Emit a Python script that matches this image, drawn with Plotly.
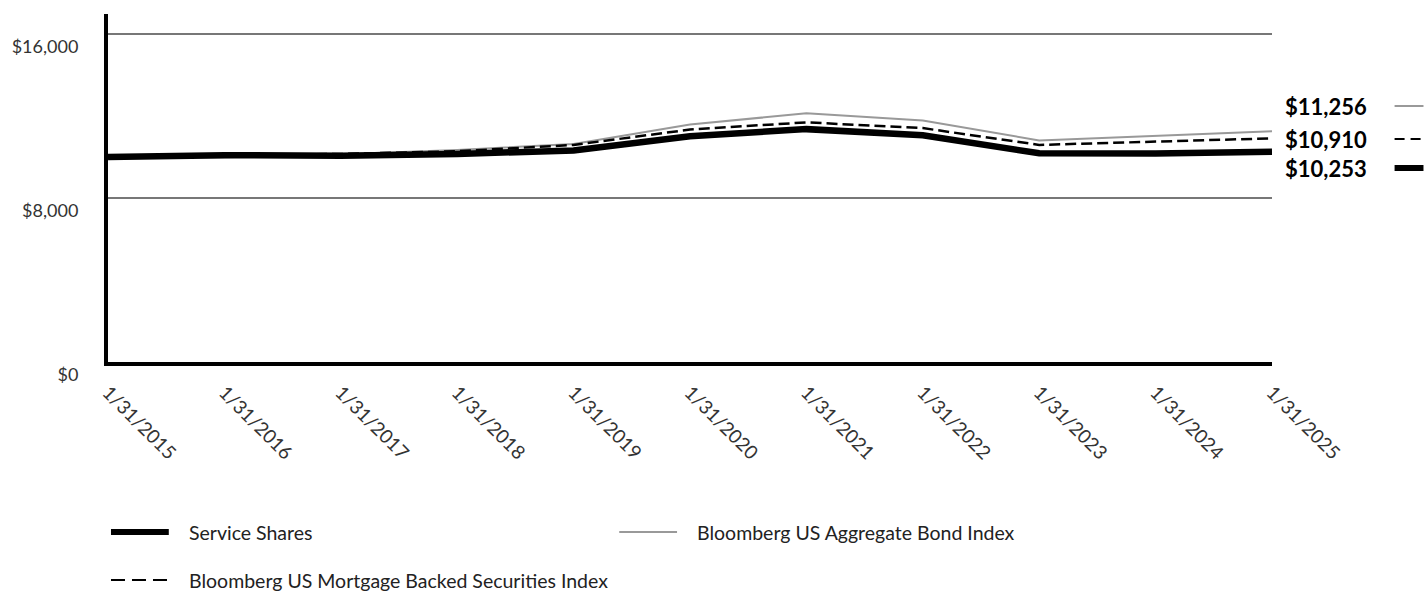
import plotly.graph_objects as go

# ---- data ----
dates = ["1/31/2015", "1/31/2016", "1/31/2017", "1/31/2018", "1/31/2019", "1/31/2020",
         "1/31/2021", "1/31/2022", "1/31/2023", "1/31/2024", "1/31/2025"]
service_shares = [10000, 10090, 10060, 10150, 10320, 11010, 11360, 11060, 10180, 10170, 10253]
agg_index = [10000, 9990, 10130, 10340, 10640, 11590, 12130, 11780, 10810, 11020, 11256]
mbs_index = [10000, 10100, 10150, 10280, 10590, 11340, 11690, 11410, 10590, 10750, 10910]
y_ticks = [0, 8000, 16000]
y_tick_text = ["$0", "$8,000", "$16,000"]
end_labels = ["$11,256", "$10,910", "$10,253"]
legend_names = ["Service Shares", "Bloomberg US Aggregate Bond Index",
                "Bloomberg US Mortgage Backed Securities Index"]

W, H = 1424, 592
L, R, T, B = 104, 1272, 14, 362
FONT = "Lato"

def px(x):
    return (x - L) / (R - L)

def py(y):
    return (B - y) / (B - T)

fig = go.Figure()
fig.add_trace(go.Scatter(x=dates, y=agg_index, mode="lines", name=legend_names[1],
                         line=dict(color="#999999", width=2), showlegend=False))
fig.add_trace(go.Scatter(x=dates, y=mbs_index, mode="lines", name=legend_names[2],
                         line=dict(color="#000000", width=2.5, dash="11px,5px"), showlegend=False))
fig.add_trace(go.Scatter(x=dates, y=service_shares, mode="lines", name=legend_names[0],
                         line=dict(color="#000000", width=6.5), showlegend=False))

shapes = []
annotations = []

# right-side end labels with line samples
end_y = [106, 139, 168]
end_styles = [dict(color="#999999", width=2), dict(color="#000000", width=2, dash="10px,6px"),
              dict(color="#000000", width=6)]
for lab, yy, st in zip(end_labels, end_y, end_styles):
    annotations.append(dict(text="<b>" + lab + "</b>", x=px(1283), y=py(yy), xref="paper", yref="paper",
                            xanchor="left", yanchor="middle", showarrow=False,
                            font=dict(family=FONT, size=22, color="#000000")))
    shapes.append(dict(type="line", xref="paper", yref="paper", x0=px(1395), x1=px(1424),
                       y0=py(yy), y1=py(yy), line=st))

# manual legend at the bottom
leg = [(legend_names[0], 107, 532, dict(color="#000000", width=6)),
       (legend_names[1], 617, 532, dict(color="#999999", width=2)),
       (legend_names[2], 107, 580, dict(color="#000000", width=2, dash="14px,7px"))]
for name, x0, yy, st in leg:
    shapes.append(dict(type="line", xref="paper", yref="paper", x0=px(x0), x1=px(x0 + 58),
                       y0=py(yy), y1=py(yy), line=st))
    annotations.append(dict(text=name, x=px(x0 + 76), y=py(yy), xref="paper", yref="paper",
                            xanchor="left", yanchor="middle", showarrow=False,
                            font=dict(family=FONT, size=19.5, color="#222222")))

fig.update_layout(
    width=W, height=H,
    margin=dict(l=L, r=W - R, t=T, b=H - B),
    paper_bgcolor="white", plot_bgcolor="white",
    font=dict(family=FONT, size=18, color="#333333"),
    shapes=shapes, annotations=annotations,
    showlegend=False,
    xaxis=dict(type="category", range=[0, len(dates) - 1], showgrid=False, zeroline=False,
               showline=True, linecolor="#000000", linewidth=4, ticks="",
               tickangle=45, tickfont=dict(family=FONT, size=19, color="#333333"),
               ticklabelstandoff=8),
    yaxis=dict(range=[0, 16976], tickvals=y_ticks, ticktext=y_tick_text, showgrid=True,
               gridcolor="#777777", gridwidth=1.5, zeroline=False, showline=True,
               linecolor="#000000", linewidth=4, ticks="", ticklabelposition="outside bottom",
               ticklabelstandoff=22, tickfont=dict(family=FONT, size=18, color="#333333")),
)

fig.write_html("out.html", config={"displayModeBar": False},
               post_script="document.body.style.margin='0';document.body.style.overflow='hidden';")
